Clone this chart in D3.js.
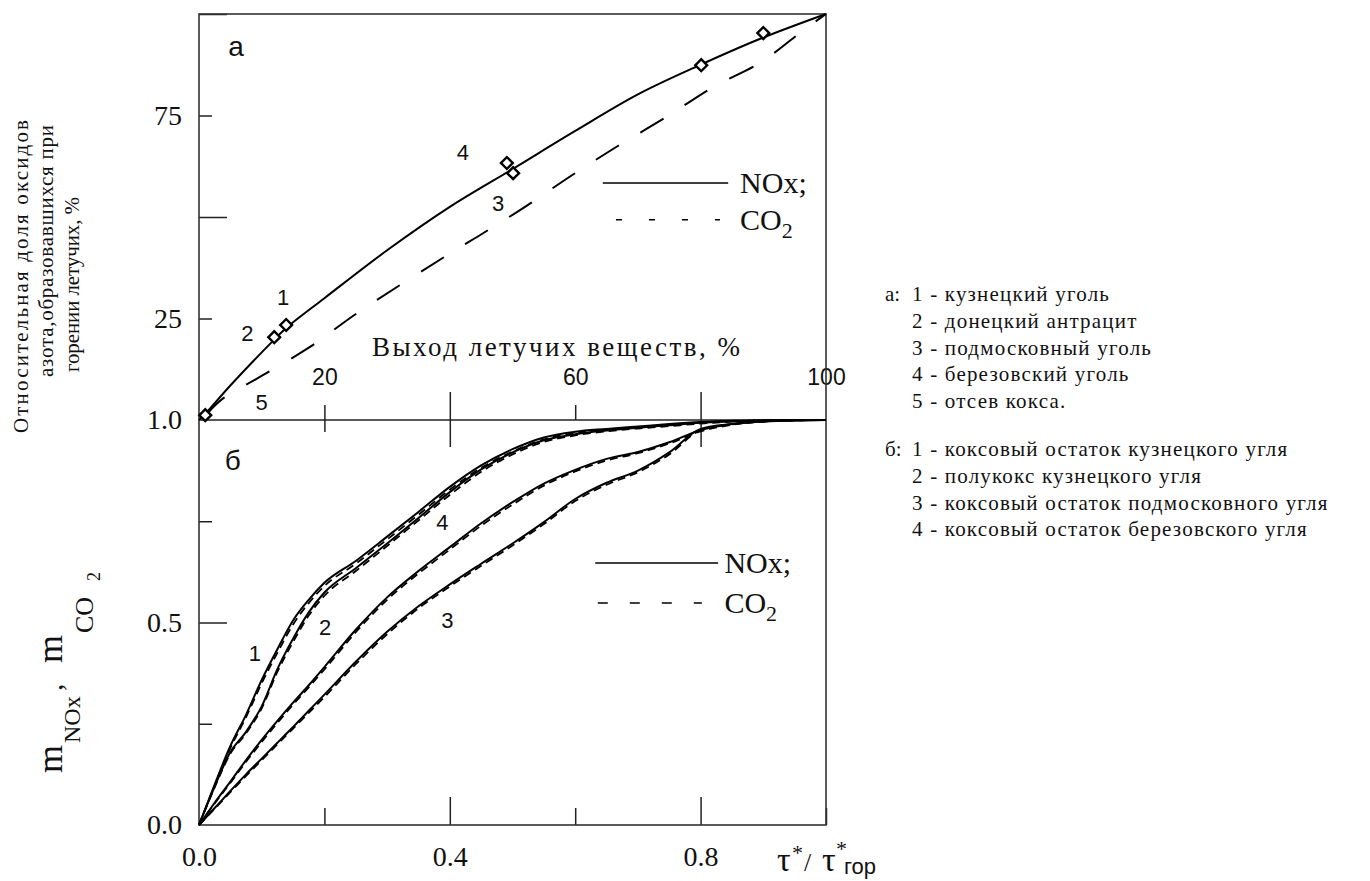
<!DOCTYPE html>
<html>
<head>
<meta charset="utf-8">
<script src="https://cdn.jsdelivr.net/npm/d3@7"></script>
<style>
  body { margin: 0; background: #fff; }
  svg text { font-family: "Liberation Serif", "DejaVu Serif", "Times New Roman", serif; fill: #111; }
  svg text.sans { font-family: "Liberation Sans", Arial, sans-serif; }
</style>
</head>
<body>
<svg id="chart" width="1370" height="881"></svg>
<script>
// ---- panel а: выход летучих (%) -> доля NOx / CO2 (%)
var yieldNOx = [0, 1, 5, 12, 14, 20, 30, 40, 50, 60, 70, 80, 90, 100];
var shareNOx = [0, 1.5, 8.5, 19.8, 22.8, 30, 41.8, 52.5, 61.8, 71.2, 80.2, 87.5, 94.2, 100];
var yieldCO2 = [1, 3.5, 9.7, 17.7, 25.2, 40, 45.3, 52, 59.3, 66.6, 74.6, 82, 89.5, 96.4, 100];
var shareCO2 = [1, 4.9, 10.6, 18, 26.3, 41, 46, 52.5, 60.1, 67.3, 74.7, 82, 88, 96, 100];
var sampleYield = [1, 12, 13.9, 49.1, 50.1, 80.1, 90];
var sampleShare = [1.2, 20.4, 23.4, 63.3, 60.8, 87.4, 95.3];

// ---- panel б: τ*/τ*гор -> m
var tauGrid = [0, 0.025, 0.05, 0.075, 0.1, 0.125, 0.15, 0.175, 0.2, 0.25, 0.3, 0.35, 0.4,
               0.45, 0.5, 0.55, 0.6, 0.65, 0.7, 0.75, 0.8, 0.85, 0.9, 0.95, 1];
var mNOx1 = [0, 0.10, 0.195, 0.272, 0.358, 0.434, 0.505, 0.556, 0.598, 0.652, 0.712, 0.773, 0.835,
             0.888, 0.928, 0.957, 0.971, 0.978, 0.984, 0.99, 0.995, 0.998, 0.999, 1, 1];
var mCO21 = [0, 0.098, 0.19, 0.266, 0.35, 0.425, 0.495, 0.548, 0.59, 0.645, 0.705, 0.766, 0.828,
             0.882, 0.922, 0.952, 0.968, 0.976, 0.982, 0.988, 0.994, 0.997, 0.999, 1, 1];
var mNOx2 = [0, 0.095, 0.18, 0.23, 0.293, 0.385, 0.46, 0.525, 0.574, 0.634, 0.695, 0.758, 0.822,
             0.878, 0.92, 0.95, 0.965, 0.974, 0.981, 0.987, 0.993, 0.997, 0.999, 1, 1];
var mCO22 = [0, 0.093, 0.176, 0.226, 0.288, 0.378, 0.452, 0.517, 0.566, 0.627, 0.689, 0.752, 0.815,
             0.872, 0.915, 0.946, 0.962, 0.972, 0.979, 0.985, 0.991, 0.996, 0.999, 1, 1];
var mNOx3 = [0, 0.042, 0.084, 0.125, 0.164, 0.203, 0.242, 0.282, 0.322, 0.403, 0.477, 0.54, 0.594,
             0.645, 0.695, 0.748, 0.805, 0.845, 0.875, 0.92, 0.978, 0.99, 0.996, 0.999, 1];
var mCO23 = [0, 0.04, 0.081, 0.121, 0.16, 0.199, 0.238, 0.277, 0.316, 0.397, 0.471, 0.535, 0.589,
             0.64, 0.69, 0.743, 0.8, 0.84, 0.871, 0.915, 0.975, 0.989, 0.996, 0.999, 1];
var mNOx4 = [0, 0.055, 0.107, 0.16, 0.21, 0.257, 0.302, 0.345, 0.39, 0.482, 0.562, 0.627, 0.686,
             0.745, 0.797, 0.843, 0.877, 0.904, 0.921, 0.945, 0.975, 0.99, 0.997, 0.999, 1];
var mCO24 = [0, 0.053, 0.104, 0.156, 0.205, 0.252, 0.297, 0.34, 0.384, 0.476, 0.556, 0.621, 0.68,
             0.739, 0.791, 0.838, 0.873, 0.9, 0.918, 0.942, 0.972, 0.988, 0.996, 0.999, 1];

var legendA = ['1 - кузнецкий уголь', '2 - донецкий антрацит', '3 - подмосковный уголь',
               '4 - березовский уголь', '5 - отсев кокса.'];
var legendB = ['1 - коксовый остаток кузнецкого угля', '2 - полукокс кузнецкого угля',
               '3 - коксовый остаток подмосковного угля', '4 - коксовый остаток березовского угля'];

var svg = d3.select('#chart');
var plotL = 199, plotR = 826, plotT = 14, plotM = 420, plotB = 825;

var xA = d3.scaleLinear().domain([0, 100]).range([plotL, plotR]);
var yA = d3.scaleLinear().domain([0, 100]).range([plotM, plotT]);
var xB = d3.scaleLinear().domain([0, 1]).range([plotL, plotR]);
var yB = d3.scaleLinear().domain([0, 1]).range([plotB, plotM]);

// axes: tick marks drawn inward, two lengths
function ticks(axis, y0, x0) {
  var g = svg.append('g').attr('transform', 'translate(' + (x0 || 0) + ',' + (y0 || 0) + ')').call(axis);
  g.select('.domain').remove();
  g.selectAll('line').attr('stroke', '#222').attr('stroke-width', 1.5);
  g.selectAll('text').attr('fill', '#111');
  return g;
}

// panel а, left
ticks(d3.axisLeft(yA).tickValues([25, 75]).tickSize(-13).tickPadding(17), 0, plotL)
  .selectAll('text').style('font-size', '28px');
ticks(d3.axisLeft(yA).tickValues([50, 100]).tickSize(-28).tickFormat(''), 0, plotL);
// panel а, x ticks along the middle line (upward)
ticks(d3.axisBottom(xA).tickValues([20, 60]).tickSize(-15).tickFormat(''), plotM);
ticks(d3.axisBottom(xA).tickValues([40, 80]).tickSize(-28).tickFormat(''), plotM);
ticks(d3.axisTop(xA).tickValues([20, 60, 100]).tickSize(0).tickPadding(35), plotM)
  .selectAll('text').attr('class', 'sans').style('font-size', '23px').attr('fill', '#222');

// panel б, left
ticks(d3.axisLeft(yB).tickValues([0, 0.5, 1]).tickSize(0).tickPadding(17).tickFormat(d3.format('.1f')), 0, plotL)
  .selectAll('text').style('font-size', '28px');
ticks(d3.axisLeft(yB).tickValues([0.25, 0.75]).tickSize(-13).tickFormat(''), 0, plotL);
ticks(d3.axisLeft(yB).tickValues([0.5]).tickSize(-28).tickFormat(''), 0, plotL);
// panel б, top (downward from middle line)
ticks(d3.axisTop(xB).tickValues([0.2]).tickSize(-12).tickFormat(''), plotM);
ticks(d3.axisTop(xB).tickValues([0.4, 0.8]).tickSize(-27).tickFormat(''), plotM);
// panel б, bottom
ticks(d3.axisBottom(xB).tickValues([0.2, 0.6, 1]).tickSize(-17).tickFormat(''), plotB);
ticks(d3.axisBottom(xB).tickValues([0.4, 0.8]).tickSize(-28).tickFormat(''), plotB);
ticks(d3.axisBottom(xB).tickValues([0, 0.4, 0.8]).tickSize(0).tickPadding(21).tickFormat(d3.format('.1f')), plotB)
  .selectAll('text').style('font-size', '28px');

// frame
svg.append('rect').attr('x', plotL).attr('y', plotT).attr('width', plotR - plotL).attr('height', plotB - plotT)
  .attr('fill', 'none').attr('stroke', '#333').attr('stroke-width', 1.6);
svg.append('line').attr('x1', plotL).attr('x2', plotR).attr('y1', plotM).attr('y2', plotM)
  .attr('stroke', '#222').attr('stroke-width', 1.6);

// ---- panel а curves
var lineA = d3.line().x(function(d) { return xA(d[0]); }).y(function(d) { return yA(d[1]); })
  .curve(d3.curveCatmullRom.alpha(0.5));
svg.append('path').datum(d3.zip(yieldNOx, shareNOx)).attr('d', lineA)
  .attr('fill', 'none').attr('stroke', '#000').attr('stroke-width', 2);
svg.append('path').datum(d3.zip(yieldCO2, shareCO2)).attr('d', lineA)
  .attr('fill', 'none').attr('stroke', '#000').attr('stroke-width', 2).attr('stroke-dasharray', '27,25');

svg.append('g').selectAll('path').data(d3.zip(sampleYield, sampleShare)).enter().append('path')
  .attr('d', d3.symbol().type(d3.symbolSquare).size(70))
  .attr('transform', function(d) { return 'translate(' + xA(d[0]) + ',' + yA(d[1]) + ') rotate(45)'; })
  .attr('fill', '#fff').attr('stroke', '#000').attr('stroke-width', 2.4);

// ---- panel б curves
var lineB = d3.line().x(function(d) { return xB(d[0]); }).y(function(d) { return yB(d[1]); })
  .curve(d3.curveMonotoneX);
[mNOx1, mNOx2, mNOx3, mNOx4].forEach(function(m) {
  svg.append('path').datum(d3.zip(tauGrid, m)).attr('d', lineB)
    .attr('fill', 'none').attr('stroke', '#000').attr('stroke-width', 2);
});
[mCO21, mCO22, mCO23, mCO24].forEach(function(m) {
  svg.append('path').datum(d3.zip(tauGrid, m)).attr('d', lineB)
    .attr('fill', 'none').attr('stroke', '#000').attr('stroke-width', 1.8).attr('stroke-dasharray', '8,5');
});

// ---- curve labels
function label(x, y, s, size) {
  svg.append('text').attr('class', 'sans').attr('x', x).attr('y', y).attr('dy', '0.36em')
    .attr('text-anchor', 'middle').style('font-size', size + 'px').text(s);
}
label(xA(5.9), yA(92.1), 'а', 28);
label(xA(13.4), yA(30.3), '1', 22);
label(xA(7.7), yA(21.4), '2', 22);
label(xA(42.1), yA(66), '4', 22);
label(xA(47.7), yA(53.4), '3', 22);
label(xA(10), yA(4.4), '5', 22);
label(xB(0.054), yB(0.901), 'б', 28);
label(xB(0.089), yB(0.425), '1', 22);
label(xB(0.201), yB(0.489), '2', 22);
label(xB(0.388), yB(0.748), '4', 22);
label(xB(0.396), yB(0.506), '3', 22);

// ---- in-panel legends
function legend(xs, xe, yLine, xd0, xd1, yDash, xt, dash) {
  svg.append('line').attr('x1', xs).attr('x2', xe).attr('y1', yLine).attr('y2', yLine)
    .attr('stroke', '#000').attr('stroke-width', 1.5);
  svg.append('line').attr('x1', xd0).attr('x2', xd1).attr('y1', yDash).attr('y2', yDash)
    .attr('stroke', '#000').attr('stroke-width', 1.5).attr('stroke-dasharray', dash);
  svg.append('text').attr('x', xt).attr('y', yLine + 10).style('font-size', '30px').text('NOx;');
  var t = svg.append('text').attr('x', xt).attr('y', yDash + 10).style('font-size', '30px');
  t.append('tspan').text('CO');
  t.append('tspan').attr('dy', 8).style('font-size', '22px').text('2');
}
legend(xA(64.4), xA(84.4), yA(58.4), xA(66.5), xA(83.1), yA(49.3), xA(86.3), '6,27');
legend(xB(0.632), xB(0.828), yB(0.647), xB(0.636), xB(0.802), yB(0.548), xB(0.838), '10,22');

// ---- axis titles
svg.append('text').attr('x', 372).attr('y', 356).attr('textLength', 368).attr('lengthAdjust', 'spacing')
  .style('font-size', '27px').text('Выход летучих веществ, %');

var titleA = ['Относительная доля оксидов', 'азота,образовавшихся при', 'горении летучих, %'];
var titleStart = [433, 377, 372], titleLen = [313, 252, 175], titleX = [28, 53, 79];
titleA.forEach(function(s, i) {
  svg.append('text').attr('transform', 'translate(' + titleX[i] + ',' + titleStart[i] + ') rotate(-90)')
    .attr('textLength', titleLen[i]).attr('lengthAdjust', 'spacing')
    .style('font-size', '21px').attr('fill', '#444').text(s);
});

var tB = svg.append('text').attr('transform', 'translate(62,773) rotate(-90)');
tB.append('tspan').attr('x', 0).attr('y', 0).style('font-size', '36px').text('m');
tB.append('tspan').attr('x', 30).attr('y', 18).style('font-size', '24px').text('NOx');
tB.append('tspan').attr('x', 82).attr('y', 0).style('font-size', '30px').text(',');
tB.append('tspan').attr('x', 110).attr('y', 0).style('font-size', '36px').text('m');
tB.append('tspan').attr('x', 140).attr('y', 31).style('font-size', '26px').text('CO');
tB.append('tspan').attr('x', 192).attr('y', 38).style('font-size', '18px').text('2');

// τ*/τ*гор
var tau = svg.append('g');
tau.append('text').attr('x', 777).attr('y', 871).style('font-size', '34px').text('τ');
tau.append('text').attr('x', 792).attr('y', 860).style('font-size', '22px').text('*');
tau.append('text').attr('x', 804).attr('y', 871).style('font-size', '26px').text('/');
tau.append('text').attr('x', 822).attr('y', 871).style('font-size', '34px').text('τ');
tau.append('text').attr('x', 836).attr('y', 856).style('font-size', '22px').text('*');
tau.append('text').attr('class', 'sans').attr('x', 844).attr('y', 874).style('font-size', '22px').text('гор');

// ---- side legend
var side = svg.append('g').style('font-size', '21px');
side.append('text').attr('x', 885).attr('y', 301).text('а:');
legendA.forEach(function(s, i) {
  side.append('text').attr('x', 912).attr('y', 301 + i * 26.8).style('letter-spacing', '1.2px').text(s);
});
side.append('text').attr('x', 885).attr('y', 456).text('б:');
legendB.forEach(function(s, i) {
  side.append('text').attr('x', 912).attr('y', 456 + i * 26.8).style('letter-spacing', '1.2px').text(s);
});
</script>
</body>
</html>
